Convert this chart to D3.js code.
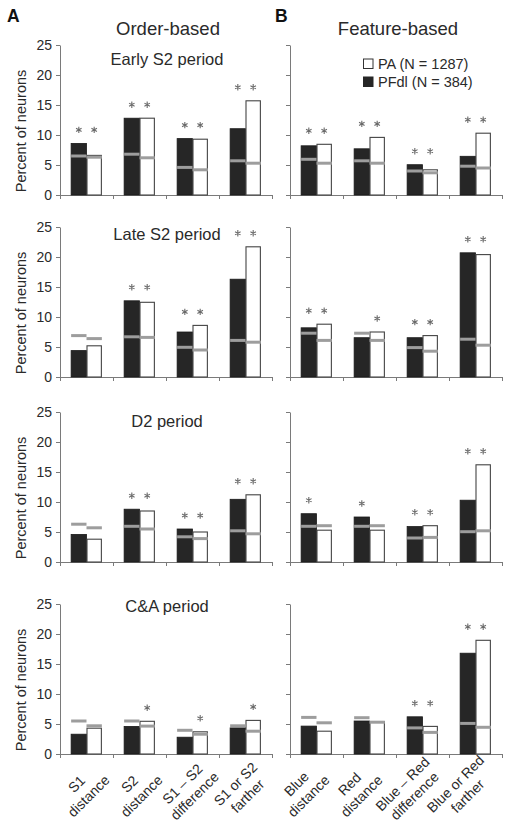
<!DOCTYPE html>
<html>
<head>
<meta charset="utf-8">
<script src="https://cdn.jsdelivr.net/npm/d3@7"></script>
<style>
  html, body { margin: 0; padding: 0; background: #fff; }
  svg { display: block; }
  text { font-family: "Liberation Sans", Arial, sans-serif; }
</style>
</head>
<body>
<svg id="chart" width="508" height="833"></svg>
<script>
// ---------------- DATA ----------------
const columnTitles = ["Order-based", "Feature-based"];
const panelLetters = ["A", "B"];
const periods = ["Early S2 period", "Late S2 period", "D2 period", "C&A period"];
const orderCategories = [["S1", "distance"], ["S2", "distance"], ["S1 \u2013 S2", "difference"], ["S1 or S2", "farther"]];
const featureCategories = [["Blue", "distance"], ["Red", "distance"], ["Blue \u2013 Red", "difference"], ["Blue or Red", "farther"]];
const yTicks = [0, 5, 10, 15, 20, 25];
const yLabel = "Percent of neurons";
const legendLabels = ["PA (N = 1287)", "PFdl (N = 384)"];

// Order-based: rows = periods, columns = categories
const orderPFdl = [
  [8.6, 12.8, 9.4, 11.05],
  [4.4, 12.7, 7.5, 16.3],
  [4.6, 8.8, 5.5, 10.45],
  [3.3, 4.6, 2.8, 4.35]
];
const orderPA = [
  [6.6, 12.8, 9.3, 15.7],
  [5.2, 12.45, 8.6, 21.7],
  [3.8, 8.5, 5.0, 11.2],
  [4.3, 5.45, 3.7, 5.6]
];
const orderPFdlChance = [
  [6.5, 6.8, 4.6, 5.7],
  [6.9, 6.7, 4.95, 6.1],
  [6.3, 5.95, 4.2, 5.2],
  [5.5, 5.5, 3.95, 4.7]
];
const orderPAChance = [
  [6.3, 6.2, 4.2, 5.3],
  [6.4, 6.6, 4.5, 5.8],
  [5.7, 5.5, 3.9, 4.7],
  [4.7, 4.65, 3.3, 3.8]
];
const orderPFdlStar = [[1, 1, 1, 1], [0, 1, 1, 1], [0, 1, 1, 1], [0, 0, 0, 0]];
const orderPAStar = [[1, 1, 1, 1], [0, 1, 1, 1], [0, 1, 1, 1], [0, 1, 1, 1]];

// Feature-based
const featurePFdl = [
  [8.2, 7.7, 5.05, 6.45],
  [8.2, 6.55, 6.55, 20.7],
  [8.05, 7.5, 5.9, 10.3],
  [4.65, 5.5, 6.2, 16.8]
];
const featurePA = [
  [8.45, 9.6, 4.2, 10.3],
  [8.8, 7.5, 6.9, 20.4],
  [5.3, 5.3, 6.05, 16.2],
  [3.8, 5.4, 4.6, 18.95]
];
const featurePFdlChance = [
  [5.95, 5.7, 4.0, 4.8],
  [7.3, 7.3, 4.9, 6.3],
  [5.95, 5.95, 4.0, 5.05],
  [6.1, 6.05, 4.35, 5.1]
];
const featurePAChance = [
  [5.3, 5.3, 3.7, 4.5],
  [6.1, 6.1, 4.3, 5.3],
  [6.05, 6.05, 4.1, 5.2],
  [5.2, 5.3, 3.6, 4.45]
];
const featurePFdlStar = [[1, 1, 1, 1], [1, 0, 1, 1], [1, 1, 1, 1], [0, 0, 1, 1]];
const featurePAStar = [[1, 1, 1, 1], [1, 1, 1, 1], [0, 0, 1, 1], [0, 0, 1, 1]];

// ---------------- LAYOUT ----------------
const svg = d3.select("#chart");
const DARK = "#262626", GRAY = "#9d9d9d", AXIS = "#7a7a7a", TEXT = "#2a2a2a", STAR = "#6a6a6a";
const rowBottoms = [195, 377, 562, 754];
const rowHeight = 150;
const colRanges = [[60, 272], [290, 502]];
const titleBaselines = [65, 240, 427, 612];
const labelShift = [-4, -14];
const starPath = d3.symbol().type(d3.symbolAsterisk).size(28)();

// Column headers
columnTitles.forEach((t, c) => {
  const [x0, x1] = colRanges[c];
  svg.append("text").attr("x", (x0 + x1) / 2 + 2).attr("y", 34.5)
    .attr("text-anchor", "middle").attr("font-size", 18.5).attr("fill", TEXT).text(t);
});
svg.append("text").attr("x", 7).attr("y", 22).attr("font-size", 17.5).attr("font-weight", "bold").attr("fill", "#111").text(panelLetters[0]);
svg.append("text").attr("x", 275).attr("y", 22).attr("font-size", 17.5).attr("font-weight", "bold").attr("fill", "#111").text(panelLetters[1]);

const columns = [
  { cats: orderCategories, dark: orderPFdl, white: orderPA, darkC: orderPFdlChance, whiteC: orderPAChance, darkS: orderPFdlStar, whiteS: orderPAStar },
  { cats: featureCategories, dark: featurePFdl, white: featurePA, darkC: featurePFdlChance, whiteC: featurePAChance, darkS: featurePFdlStar, whiteS: featurePAStar }
];

periods.forEach((period, r) => {
  const yb = rowBottoms[r];
  const y = d3.scaleLinear().domain([0, 25]).range([yb, yb - rowHeight]);

  columns.forEach((col, c) => {
    const [x0, x1] = colRanges[c];
    const x = d3.scaleBand().domain(d3.range(col.cats.length)).range([x0, x1]).padding(0);
    const barW = x.bandwidth() * 0.29;
    const g = svg.append("g");

    // y axis
    const yAxis = d3.axisLeft(y).tickValues(yTicks).tickSize(4).tickSizeOuter(0).tickPadding(4);
    if (c === 1) yAxis.tickFormat("");
    const ya = g.append("g").attr("transform", `translate(${x0},0)`).call(yAxis);
    ya.select(".domain").attr("stroke", AXIS);
    ya.selectAll(".tick line").attr("stroke", AXIS);
    ya.selectAll(".tick text").attr("font-size", 14).attr("fill", TEXT)
      .attr("font-family", '"Liberation Sans", Arial, sans-serif');

    // x axis (ticks at category boundaries)
    const xb = d3.scaleLinear().domain([0, col.cats.length]).range([x0, x1]);
    const xAxis = d3.axisBottom(xb).tickValues(d3.range(col.cats.length + 1)).tickSize(4).tickSizeOuter(0).tickFormat("");
    const xa = g.append("g").attr("transform", `translate(0,${yb})`).call(xAxis);
    xa.select(".domain").attr("stroke", AXIS);
    xa.selectAll(".tick line").attr("stroke", AXIS);

    col.cats.forEach((cat, i) => {
      const cx = x(i) + x.bandwidth() / 2;
      const dv = col.dark[r][i], wv = col.white[r][i];
      // dark bar (PFdl)
      g.append("rect").attr("x", cx - barW).attr("y", y(dv)).attr("width", barW).attr("height", yb - y(dv))
        .attr("fill", DARK).attr("stroke", "#1a1a1a").attr("stroke-width", 0.8);
      // white bar (PA)
      g.append("rect").attr("x", cx + 0.5).attr("y", y(wv)).attr("width", barW - 1).attr("height", yb - y(wv))
        .attr("fill", "#fff").attr("stroke", "#444").attr("stroke-width", 1.1);
      // chance lines
      g.append("line").attr("x1", cx - barW).attr("x2", cx).attr("y1", y(col.darkC[r][i])).attr("y2", y(col.darkC[r][i]))
        .attr("stroke", GRAY).attr("stroke-width", 3);
      g.append("line").attr("x1", cx).attr("x2", cx + barW).attr("y1", y(col.whiteC[r][i])).attr("y2", y(col.whiteC[r][i]))
        .attr("stroke", GRAY).attr("stroke-width", 3);
      // significance stars
      const sy = y(Math.max(dv, wv)) - 13.5;
      if (col.darkS[r][i]) g.append("path").attr("d", starPath)
        .attr("transform", `translate(${cx - barW / 2},${sy})`).attr("fill", "none").attr("stroke", STAR).attr("stroke-width", 1.1);
      if (col.whiteS[r][i]) g.append("path").attr("d", starPath)
        .attr("transform", `translate(${cx + barW / 2},${sy})`).attr("fill", "none").attr("stroke", STAR).attr("stroke-width", 1.1);

      // category labels on bottom row (two lines, rotated -45deg)
      if (r === periods.length - 1) {
        const px = cx + labelShift[c], py = 790;
        const off = 8.5 * Math.SQRT1_2;
        svg.append("text")
          .attr("transform", `translate(${px - off},${py - off}) rotate(-45)`)
          .attr("dy", "0.35em").attr("text-anchor", "middle")
          .attr("font-size", 14).attr("fill", TEXT).text(cat[0]);
        svg.append("text")
          .attr("transform", `translate(${px + off},${py + off}) rotate(-45)`)
          .attr("dy", "0.35em").attr("text-anchor", "middle")
          .attr("font-size", 14).attr("fill", TEXT).text(cat[1]);
      }
    });
  });

  // period title (left panel)
  svg.append("text").attr("x", 167).attr("y", titleBaselines[r]).attr("text-anchor", "middle")
    .attr("font-size", 16.5).attr("fill", TEXT).text(period);

  // y label
  svg.append("text").attr("transform", `translate(21,${yb - rowHeight + 86}) rotate(-90)`)
    .attr("text-anchor", "middle").attr("dy", "0.35em").attr("font-size", 14.5).attr("fill", TEXT).text(yLabel);
});

// Legend
legendLabels.forEach((lab, i) => {
  const ly = 59 + i * 18;
  svg.append("rect").attr("x", 363.5).attr("y", ly).attr("width", 9.5).attr("height", 9.5)
    .attr("fill", i === 0 ? "#fff" : DARK).attr("stroke", i === 0 ? "#333" : DARK).attr("stroke-width", 1);
  svg.append("text").attr("x", 378).attr("y", ly + 9.5).attr("font-size", 14.5).attr("fill", TEXT).text(lab);
});
</script>
</body>
</html>
